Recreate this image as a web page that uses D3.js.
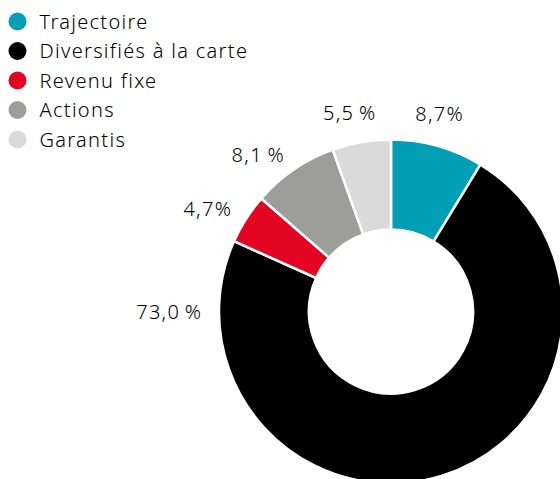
<!DOCTYPE html>
<html>
<head>
<meta charset="utf-8">
<script src="https://cdn.jsdelivr.net/npm/d3@7"></script>
<style>
  html, body { margin: 0; padding: 0; background: #fff; }
  svg { display: block; }
  text { font-family: "Noto Sans", Lato, sans-serif; fill: #000; font-size: 20px; letter-spacing: 1.3px; font-weight: 300; }
</style>
</head>
<body>
<div id="chart"></div>
<script>
// data
var categories = ["Trajectoire", "Diversifiés à la carte", "Revenu fixe", "Actions", "Garantis"];
var shares = [8.7, 73.0, 4.7, 8.1, 5.5];
var shareLabels = ["8,7%", "73,0\u2009%", "4,7%", "8,1\u2009%", "5,5\u2009%"];
var colours = ["#009fb5", "#000000", "#e30521", "#9d9d9c", "#dadada"];

var width = 560, height = 479;
var cx = 391, cy = 311.5;
var outerR = 172, innerR = 82;

var svg = d3.select("#chart").append("svg")
  .attr("width", width)
  .attr("height", height);

var data = categories.map(function(c, i) {
  return { name: c, value: shares[i], label: shareLabels[i], colour: colours[i] };
});

var pie = d3.pie().sort(null).value(function(d) { return d.value; });
var arcs = pie(data);

var arc = d3.arc().innerRadius(innerR).outerRadius(outerR);

var g = svg.append("g").attr("transform", "translate(" + cx + "," + cy + ")");

g.selectAll("path")
  .data(arcs)
  .enter().append("path")
  .attr("d", arc)
  .attr("fill", function(d) { return d.data.colour; })
  .attr("stroke", "#fff")
  .attr("stroke-width", 2.5);

// labels outside the ring: ones near the top are centred, side ones end at the ring
// the biggest slice has its label on the left, at mid height
var biggest = d3.max(arcs, function(d) { return d.value; });
function labelAngle(d) {
  return d.value === biggest ? -Math.PI / 2 : (d.startAngle + d.endAngle) / 2;
}
function isTop(d) { return Math.abs(Math.sin(labelAngle(d))) < 0.3; }
function labelPos(d) {
  var a = labelAngle(d), r = 190, dx = 1.3;
  if (isTop(d)) { a -= 0.035; r = 203; dx = 0.65; }
  return [r * Math.sin(a) + dx, -r * Math.cos(a)];
}

g.selectAll("text.val")
  .data(arcs)
  .enter().append("text")
  .attr("class", "val")
  .attr("x", function(d) { return labelPos(d)[0]; })
  .attr("y", function(d) { return labelPos(d)[1]; })
  .attr("dy", "0.35em")
  .attr("text-anchor", function(d) { return isTop(d) ? "middle" : "end"; })
  .text(function(d) { return d.data.label; });

// legend
var legendY = d3.scaleLinear().domain([0, 1]).range([21.5, 51]);
var legend = svg.selectAll("g.leg")
  .data(data)
  .enter().append("g")
  .attr("class", "leg")
  .attr("transform", function(d, i) { return "translate(17.5," + legendY(i) + ")"; });

legend.append("circle")
  .attr("r", 9)
  .attr("fill", function(d) { return d.colour; });

legend.append("text")
  .attr("x", 22)
  .attr("dy", "0.35em")
  .text(function(d) { return d.name; });
</script>
</body>
</html>
